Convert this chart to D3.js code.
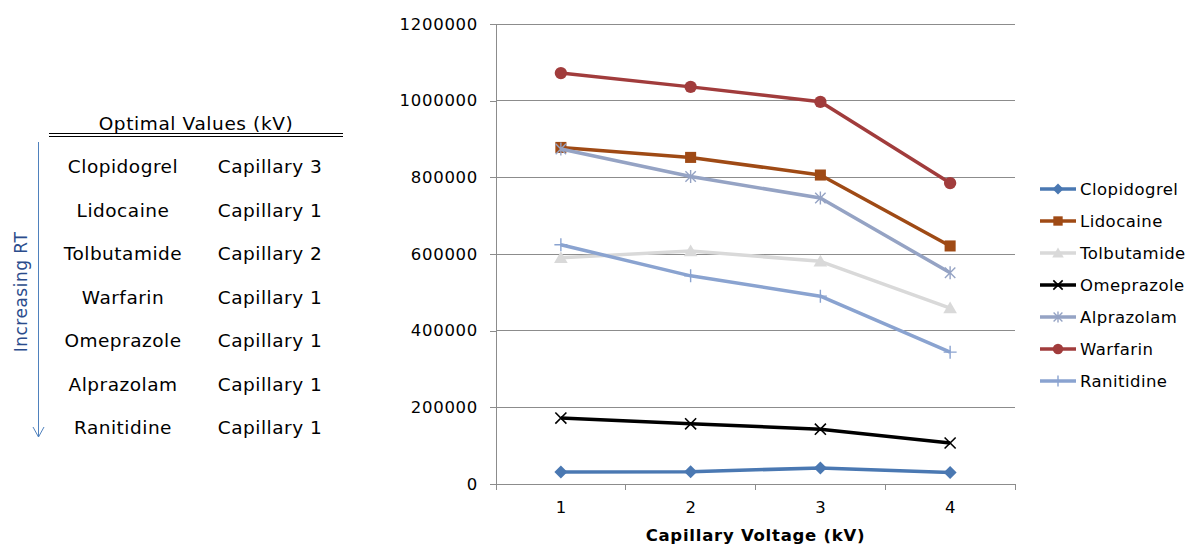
<!DOCTYPE html>
<html>
<head>
<meta charset="utf-8">
<script src="https://cdn.jsdelivr.net/npm/d3@7"></script>
<style>
  html, body { margin: 0; padding: 0; background: #fff; }
  svg { display: block; font-family: "DejaVu Sans", Verdana, sans-serif; }
</style>
</head>
<body>
<svg id="chart" width="1194" height="546"></svg>
<script>
// Capillary voltage settings (kV)
const voltages = ["1", "2", "3", "4"];

// Peak response per compound at each voltage
const clopidogrel = [31000, 32000, 42000, 30000];
const lidocaine   = [878000, 852000, 806000, 621000];
const tolbutamide = [590000, 608000, 581000, 459000];
const omeprazole  = [172000, 157000, 143000, 107000];
const alprazolam  = [874000, 802000, 746000, 551000];
const warfarin    = [1072000, 1036000, 997000, 785000];
const ranitidine  = [624000, 543000, 490000, 344000];

const seriesNames = ["Clopidogrel", "Lidocaine", "Tolbutamide", "Omeprazole", "Alprazolam", "Warfarin", "Ranitidine"];
const seriesValues = [clopidogrel, lidocaine, tolbutamide, omeprazole, alprazolam, warfarin, ranitidine];
const seriesColors = ["#4a78b2", "#9f4a15", "#d9d9d9", "#000000", "#95a3c4", "#a13c3c", "#8aa3d0"];
const seriesMarkers = ["diamond", "square", "triangle", "cross", "asterisk", "circle", "plus"];

const yTicks = [0, 200000, 400000, 600000, 800000, 1000000, 1200000];

// Optimal-value table, listed in order of increasing retention time
const tableCompounds = ["Clopidogrel", "Lidocaine", "Tolbutamide", "Warfarin", "Omeprazole", "Alprazolam", "Ranitidine"];
const tableSettings  = ["Capillary 3", "Capillary 1", "Capillary 2", "Capillary 1", "Capillary 1", "Capillary 1", "Capillary 1"];

const svg = d3.select("#chart");
const plot = { left: 496, right: 1015, top: 24, bottom: 484 };

const x = d3.scaleBand().domain(voltages).range([plot.left, plot.right]);
const y = d3.scaleLinear().domain([0, 1200000]).range([plot.bottom, plot.top]);
const axisGray = "#8c8c8c";

// Horizontal gridlines
svg.append("g").selectAll("line").data(yTicks.filter(d => d > 0)).join("line")
  .attr("x1", plot.left).attr("x2", plot.right)
  .attr("y1", d => y(d)).attr("y2", d => y(d))
  .attr("stroke", axisGray).attr("stroke-width", 1)
  .attr("shape-rendering", "crispEdges");

// Value axis
const yAxis = svg.append("g").attr("transform", `translate(${plot.left},0)`)
  .call(d3.axisLeft(y).tickValues(yTicks).tickFormat(d3.format("d")).tickSize(6).tickPadding(12));
yAxis.select(".domain").attr("stroke", axisGray).attr("shape-rendering", "crispEdges");
yAxis.selectAll(".tick line").attr("stroke", axisGray).attr("shape-rendering", "crispEdges");
yAxis.selectAll("text").attr("font-size", "16.5px").attr("fill", "#000")
  .attr("letter-spacing", "0.7px")
  .attr("font-family", "DejaVu Sans, Verdana, sans-serif");

// Category axis with tick marks between categories
svg.append("line")
  .attr("x1", plot.left).attr("x2", plot.right)
  .attr("y1", plot.bottom).attr("y2", plot.bottom)
  .attr("stroke", axisGray).attr("shape-rendering", "crispEdges");
const boundaries = voltages.map(v => x(v)).concat([x(voltages[voltages.length - 1]) + x.bandwidth()]);
svg.append("g").selectAll("line").data(boundaries).join("line")
  .attr("x1", d => d).attr("x2", d => d)
  .attr("y1", plot.bottom).attr("y2", plot.bottom + 6)
  .attr("stroke", axisGray).attr("shape-rendering", "crispEdges");
svg.append("g").selectAll("text").data(voltages).join("text")
  .attr("x", d => x(d) + x.bandwidth() / 2)
  .attr("y", 513)
  .attr("text-anchor", "middle")
  .attr("font-size", "16.5px")
  .text(d => d);

svg.append("text")
  .attr("x", (plot.left + plot.right) / 2).attr("y", 541)
  .attr("text-anchor", "middle")
  .attr("font-size", "16.5px").attr("font-weight", "bold")
  .attr("letter-spacing", "0.75px")
  .text("Capillary Voltage (kV)");

// Marker shapes
function drawMarker(g, kind, color, size) {
  const s = size;
  if (kind === "diamond") {
    g.append("path").attr("d", `M0,${-s}L${s},0L0,${s}L${-s},0Z`).attr("fill", color);
  } else if (kind === "square") {
    g.append("rect").attr("x", -s * 0.85).attr("y", -s * 0.85)
      .attr("width", s * 1.7).attr("height", s * 1.7).attr("fill", color);
  } else if (kind === "triangle") {
    g.append("path").attr("d", `M0,${-s}L${s * 1.05},${s * 0.8}L${-s * 1.05},${s * 0.8}Z`).attr("fill", color);
  } else if (kind === "circle") {
    g.append("circle").attr("r", s * 0.95).attr("fill", color);
  } else if (kind === "cross") {
    const c = s * 0.85;
    g.append("path").attr("d", `M${-c},${-c}L${c},${c}M${-c},${c}L${c},${-c}`)
      .attr("stroke", color).attr("stroke-width", 1.6).attr("fill", "none");
  } else if (kind === "asterisk") {
    const c = s * 0.8;
    g.append("path").attr("d", `M${-c},${-c}L${c},${c}M${-c},${c}L${c},${-c}M0,${-s}L0,${s}`)
      .attr("stroke", color).attr("stroke-width", 1.4).attr("fill", "none");
  } else if (kind === "plus") {
    g.append("path").attr("d", `M0,${-s}L0,${s}M${-s},0L${s},0`)
      .attr("stroke", color).attr("stroke-width", 1.4).attr("fill", "none");
  }
}

const line = d3.line()
  .x((d, i) => x(voltages[i]) + x.bandwidth() / 2)
  .y(d => y(d));

// Draw series in order so later series sit on top
seriesValues.forEach((vals, si) => {
  const g = svg.append("g");
  g.append("path").datum(vals)
    .attr("d", line)
    .attr("fill", "none")
    .attr("stroke", seriesColors[si])
    .attr("stroke-width", 3.5)
    .attr("stroke-linejoin", "round");
  vals.forEach((v, i) => {
    const m = g.append("g").attr("transform", `translate(${x(voltages[i]) + x.bandwidth() / 2},${y(v)})`);
    drawMarker(m, seriesMarkers[si], seriesColors[si], 6.5);
  });
});

// Legend
const legend = svg.append("g");
seriesNames.forEach((name, i) => {
  const cy = 189 + i * 32;
  const row = legend.append("g").attr("transform", `translate(1040,${cy})`);
  row.append("line").attr("x1", 0).attr("x2", 36).attr("y1", 0).attr("y2", 0)
    .attr("stroke", seriesColors[i]).attr("stroke-width", 3.5);
  const m = row.append("g").attr("transform", "translate(18,0)");
  drawMarker(m, seriesMarkers[i], seriesColors[i], 5.5);
  row.append("text").attr("x", 40).attr("y", 6)
    .attr("font-size", "16.5px").attr("letter-spacing", "0.45px").text(name);
});

// Optimal values table
const table = svg.append("g");
table.append("text").attr("x", 196).attr("y", 130)
  .attr("text-anchor", "middle").attr("font-size", "18.5px").attr("letter-spacing", "0.6px")
  .text("Optimal Values (kV)");
[133, 136].forEach(yy => {
  table.append("line").attr("x1", 49).attr("x2", 343).attr("y1", yy).attr("y2", yy)
    .attr("stroke", "#000").attr("stroke-width", 1).attr("shape-rendering", "crispEdges");
});
tableCompounds.forEach((name, i) => {
  const cy = 173 + i * 43.5;
  table.append("text").attr("x", 123).attr("y", cy)
    .attr("text-anchor", "middle").attr("font-size", "18.5px").attr("letter-spacing", "0.5px").text(name);
  table.append("text").attr("x", 270).attr("y", cy)
    .attr("text-anchor", "middle").attr("font-size", "18.5px").attr("letter-spacing", "0.5px").text(tableSettings[i]);
});

// Retention time arrow
const arrowColor = "#4f81bd";
table.append("line").attr("x1", 38.5).attr("x2", 38.5).attr("y1", 142).attr("y2", 437)
  .attr("stroke", arrowColor).attr("stroke-width", 1);
table.append("path").attr("d", "M33,427L38.5,437L44,427")
  .attr("stroke", arrowColor).attr("stroke-width", 1).attr("fill", "none");
table.append("text")
  .attr("transform", "translate(27,292) rotate(-90)")
  .attr("text-anchor", "middle").attr("font-size", "17px").attr("letter-spacing", "0.5px")
  .attr("fill", "#2b4c8c")
  .text("Increasing RT");
</script>
</body>
</html>
